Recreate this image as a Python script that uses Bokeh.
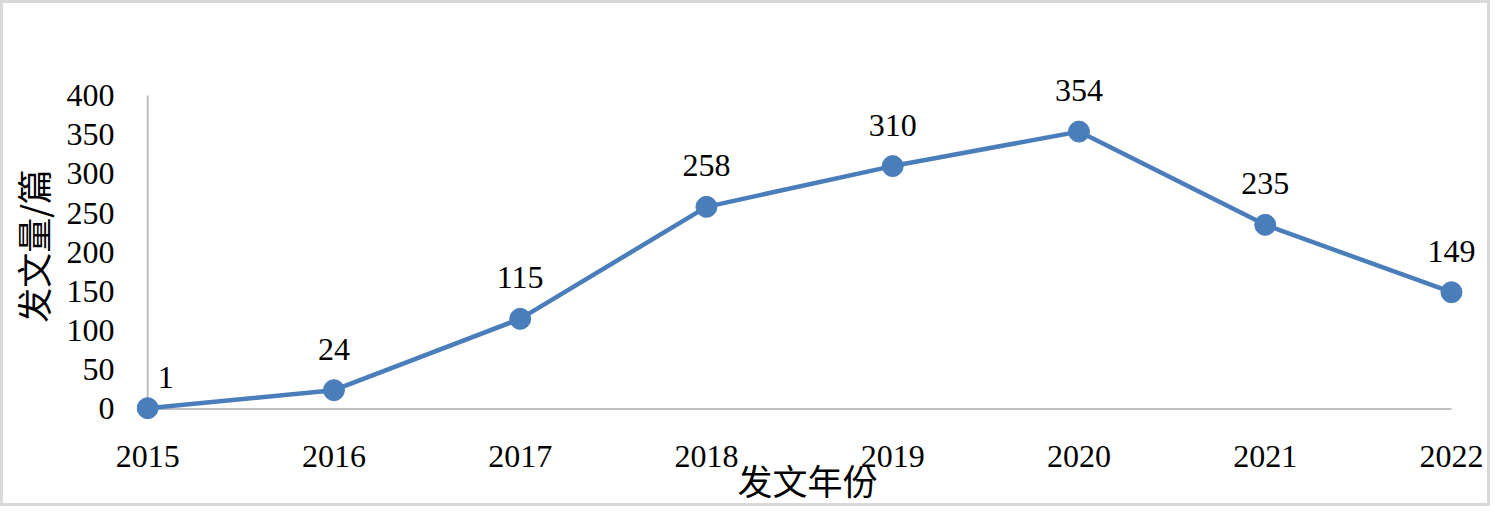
from bokeh.plotting import figure
from bokeh.models import ColumnDataSource, FixedTicker, Range1d
from bokeh.core.properties import value
from bokeh.embed import file_html
from bokeh.resources import INLINE

years = [2015, 2016, 2017, 2018, 2019, 2020, 2021, 2022]
counts = [1, 24, 115, 258, 310, 354, 235, 149]
y_ticks = [0, 50, 100, 150, 200, 250, 300, 350, 400]
x_title = "发文年份"
y_title = "发文量/篇"

LINE = "#4a7ebb"
AXIS = "#bfbfbf"
SERIF = "Liberation Serif"
CJK = "Noto Sans CJK SC"

p = figure(width=1490, height=506, output_backend="svg", toolbar_location=None,
           x_range=Range1d(2014.94, 2022.145), y_range=Range1d(-16, 432),
           min_border_left=131, min_border_right=15, min_border_top=67,
           min_border_bottom=88)
p.styles = {"border": "3px solid #d9d9d9", "box-sizing": "border-box"}
p.outline_line_color = None
p.grid.visible = False

# axis lines at the data origin
p.segment(x0=[years[0]], y0=[y_ticks[0]], x1=[years[-1]], y1=[y_ticks[0]],
          line_color=AXIS, line_width=2)
p.segment(x0=[years[0]], y0=[y_ticks[0]], x1=[years[0]], y1=[y_ticks[-1]],
          line_color=AXIS, line_width=2)

src = ColumnDataSource(dict(x=years, y=counts))
p.line("x", "y", source=src, line_color=LINE, line_width=4.5)
p.scatter("x", "y", source=src, size=21, fill_color=LINE, line_color=LINE)

first = ColumnDataSource(dict(x=years[:1], y=counts[:1], lab=[str(counts[0])]))
rest = ColumnDataSource(dict(x=years[1:], y=counts[1:], lab=[str(c) for c in counts[1:]]))
p.text("x", "y", text="lab", source=rest, text_font=value(SERIF),
       text_font_size="32px", text_align="center", text_baseline="middle",
       y_offset=-41, text_color="#000000")
p.text("x", "y", text="lab", source=first, text_font=value(SERIF),
       text_font_size="32px", text_align="center", text_baseline="middle",
       x_offset=18, y_offset=-31, text_color="#000000")

for ax in (p.xaxis[0], p.yaxis[0]):
    ax.axis_line_color = None
    ax.major_tick_line_color = None
    ax.minor_tick_line_color = None
    ax.major_label_text_font = SERIF
    ax.major_label_text_font_size = "32px"
    ax.major_label_text_color = "#000000"
    ax.axis_label_text_font = CJK
    ax.axis_label_text_font_size = "35px"
    ax.axis_label_text_font_style = "normal"
    ax.axis_label_text_color = "#000000"

p.xaxis[0].ticker = FixedTicker(ticks=years)
p.xaxis[0].major_label_standoff = 18
p.xaxis[0].axis_label = x_title
p.xaxis[0].axis_label_standoff = -16

p.yaxis[0].ticker = FixedTicker(ticks=y_ticks)
p.yaxis[0].major_label_standoff = 16
p.yaxis[0].axis_label = y_title
p.yaxis[0].axis_label_standoff = 6

open("out.html", "w").write(file_html(p, INLINE))
